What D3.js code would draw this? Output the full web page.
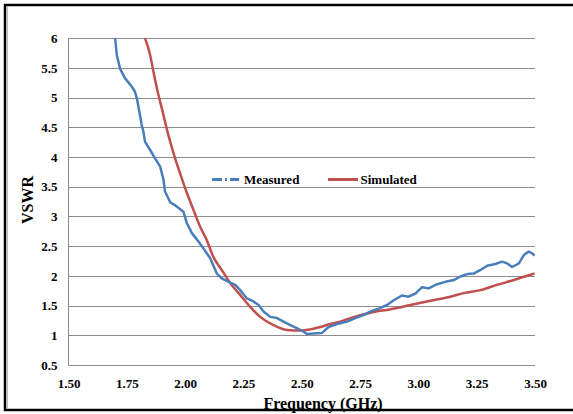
<!DOCTYPE html>
<html><head><meta charset="utf-8">
<script src="https://cdn.jsdelivr.net/npm/d3@7"></script>
<style>html,body{margin:0;padding:0;background:#fff;}svg{display:block;}</style>
</head><body>
<script>
const xTicks = [1.5, 1.75, 2.0, 2.25, 2.5, 2.75, 3.0, 3.25, 3.5];
const yTicks = [0.5, 1, 1.5, 2, 2.5, 3, 3.5, 4, 4.5, 5, 5.5, 6];
const seriesNames = ["Measured", "Simulated"];
const measuredF = [1.700,1.707,1.721,1.742,1.771,1.785,1.793,1.804,1.814,1.821,1.828,1.850,1.871,1.893,1.907,1.914,1.936,1.964,1.993,2.007,2.029,2.057,2.079,2.107,2.136,2.157,2.186,2.215,2.236,2.265,2.293,2.315,2.336,2.365,2.394,2.422,2.451,2.479,2.508,2.522,2.550,2.587,2.615,2.651,2.694,2.730,2.765,2.794,2.830,2.866,2.894,2.930,2.958,2.987,3.016,3.044,3.080,3.116,3.152,3.180,3.209,3.237,3.266,3.295,3.330,3.359,3.381,3.402,3.431,3.452,3.473,3.488,3.498];
const measuredV = [6.00,5.72,5.49,5.33,5.19,5.10,4.99,4.76,4.54,4.43,4.26,4.12,3.98,3.84,3.62,3.42,3.24,3.17,3.08,2.89,2.72,2.58,2.46,2.30,2.04,1.96,1.90,1.85,1.76,1.62,1.57,1.51,1.40,1.31,1.29,1.23,1.17,1.12,1.06,1.02,1.03,1.04,1.14,1.19,1.23,1.29,1.34,1.40,1.45,1.51,1.59,1.67,1.65,1.70,1.81,1.79,1.86,1.90,1.93,1.99,2.03,2.04,2.10,2.17,2.20,2.24,2.21,2.15,2.21,2.35,2.41,2.38,2.34];
const simulatedF = [1.828,1.850,1.864,1.879,1.893,1.907,1.921,1.936,1.957,1.979,2.000,2.018,2.036,2.064,2.093,2.121,2.157,2.193,2.236,2.279,2.322,2.379,2.436,2.494,2.536,2.579,2.622,2.665,2.708,2.794,2.880,2.966,3.052,3.137,3.194,3.266,3.338,3.409,3.498];
const simulatedV = [6.00,5.72,5.44,5.16,4.93,4.71,4.48,4.26,3.98,3.72,3.48,3.29,3.11,2.83,2.60,2.32,2.10,1.88,1.68,1.48,1.31,1.17,1.09,1.08,1.10,1.14,1.19,1.23,1.29,1.38,1.44,1.51,1.58,1.65,1.71,1.76,1.85,1.93,2.04];

const W = 573, H = 414;
const svg = d3.select("body").append("svg").attr("width", W).attr("height", H);
const font = "'Liberation Serif','Times New Roman',serif";

// outer frame
svg.append("rect").attr("x", 5).attr("y", 5).attr("width", 620).attr("height", 405)
  .attr("fill", "none").attr("stroke", "#000").attr("stroke-width", 2.5);
svg.append("line").attr("x1", 7.5).attr("x2", 7.5).attr("y1", 7).attr("y2", 409)
  .attr("stroke", "#bbb").attr("stroke-width", 1);

const x = d3.scaleLinear().domain([1.5, 3.5]).range([68.5, 535]);
const y = d3.scaleLinear().domain([0.5, 6]).range([365, 38.3]);

// gridlines
svg.append("g").selectAll("line").data(yTicks).join("line")
  .attr("x1", x(1.5)).attr("x2", x(3.5))
  .attr("y1", d => Math.round(y(d)) + 0.5).attr("y2", d => Math.round(y(d)) + 0.5)
  .attr("stroke", "#8c8c8c").attr("stroke-width", 1);
svg.append("line").attr("x1", x(1.5)).attr("x2", x(1.5)).attr("y1", y(6)).attr("y2", y(0.5))
  .attr("stroke", "#8c8c8c").attr("stroke-width", 1);

// axes via d3
const yAxis = d3.axisLeft(y).tickValues(yTicks).tickSize(0).tickPadding(11)
  .tickFormat(d => d3.format("")(d));
const gy = svg.append("g").attr("transform", `translate(${x(1.5)},0)`).call(yAxis);
gy.select(".domain").remove();
gy.selectAll("text").attr("font-family", font).attr("font-weight", "bold").attr("font-size", 13).attr("fill", "#000");

const xAxis = d3.axisBottom(x).tickValues(xTicks).tickSize(0).tickPadding(14)
  .tickFormat(d3.format(".2f"));
const gx = svg.append("g").attr("transform", `translate(0,${y(0.5)})`).call(xAxis);
gx.select(".domain").remove();
gx.selectAll("text").attr("font-family", font).attr("font-weight", "bold").attr("font-size", 13).attr("fill", "#000");

// clip
svg.append("clipPath").attr("id", "clip").append("rect")
  .attr("x", x(1.5)).attr("y", y(6) - 1).attr("width", x(3.5) - x(1.5) + 2).attr("height", y(0.5) - y(6) + 2);

const line = d3.line().x(d => x(d[0])).y(d => y(d[1])).curve(d3.curveMonotoneX);
const meas = measuredF.map((f, i) => [f, measuredV[i]]);
const sim = simulatedF.map((f, i) => [f, simulatedV[i]]);

svg.append("path").attr("clip-path", "url(#clip)").attr("d", line(sim))
  .attr("fill", "none").attr("stroke", "#C0504D").attr("stroke-width", 2.5);
svg.append("path").attr("clip-path", "url(#clip)").attr("d", d3.line().x(d => x(d[0])).y(d => y(d[1])).curve(d3.curveLinear)(meas))
  .attr("fill", "none").attr("stroke", "#4A7EBB").attr("stroke-width", 2.5).attr("stroke-linejoin", "round");

// legend
const lg = svg.append("g");
lg.append("line").attr("x1", 212).attr("x2", 239).attr("y1", 179.5).attr("y2", 179.5)
  .attr("stroke", "#4A7EBB").attr("stroke-width", 3).attr("stroke-dasharray", "10,3,2,3,10");
lg.append("text").attr("x", 244).attr("y", 184).text(seriesNames[0])
  .attr("font-family", font).attr("font-weight", "bold").attr("font-size", 13);
lg.append("line").attr("x1", 328).attr("x2", 358).attr("y1", 179.5).attr("y2", 179.5)
  .attr("stroke", "#C0504D").attr("stroke-width", 3);
lg.append("text").attr("x", 360.5).attr("y", 184).text(seriesNames[1])
  .attr("font-family", font).attr("font-weight", "bold").attr("font-size", 13);

// axis titles
svg.append("text").attr("x", 323).attr("y", 409).attr("text-anchor", "middle")
  .attr("font-family", font).attr("font-weight", "bold").attr("font-size", 16).text("Frequency (GHz)");
svg.append("text").attr("transform", "translate(33,200) rotate(-90)").attr("text-anchor", "middle")
  .attr("font-family", font).attr("font-weight", "bold").attr("font-size", 16).text("VSWR");
</script>
</body></html>
